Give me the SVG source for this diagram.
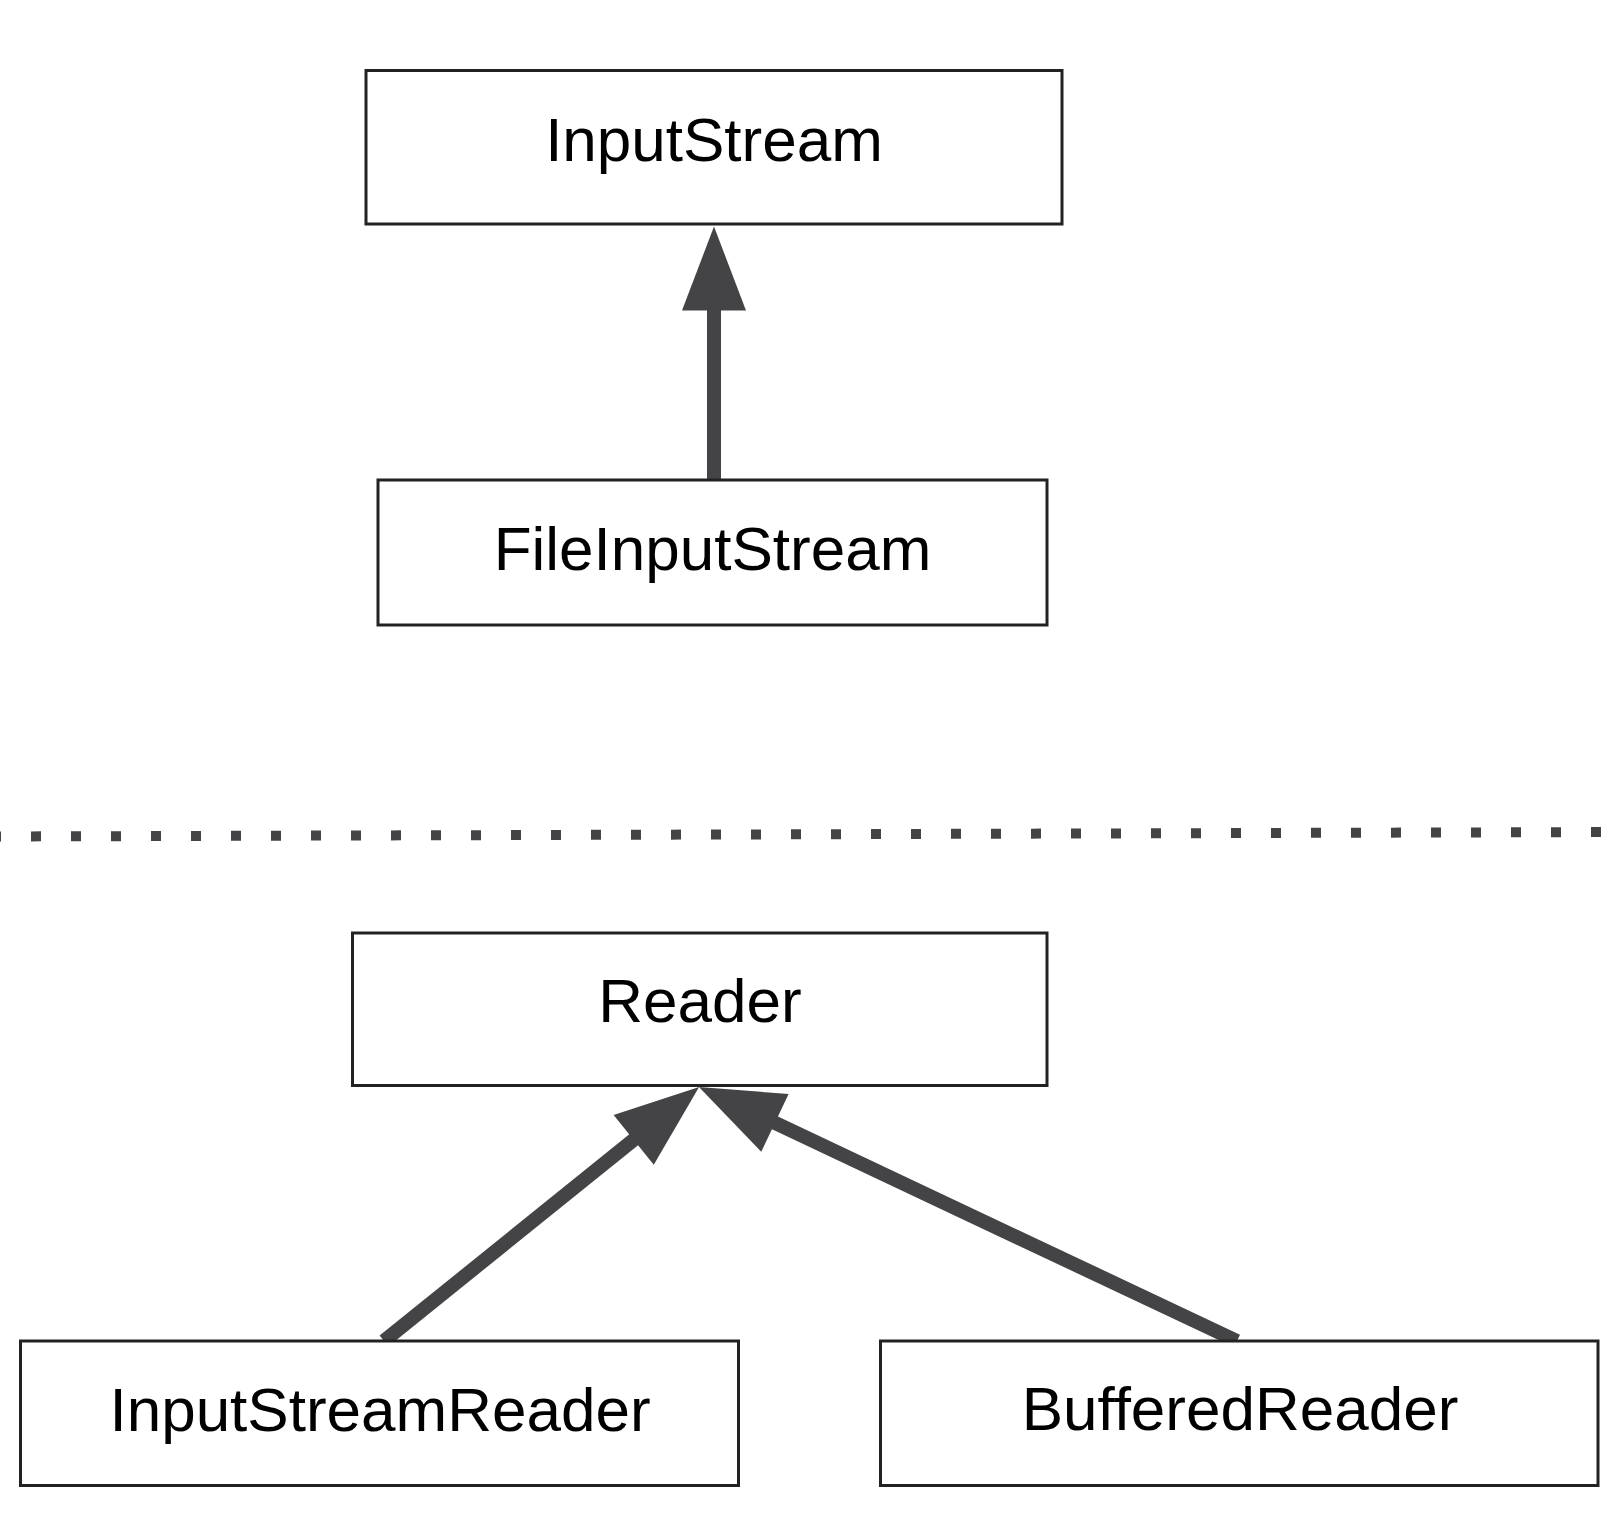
<svg xmlns="http://www.w3.org/2000/svg" width="1624" height="1530" viewBox="0 0 1624 1530">
  <style>
    .box { fill: #ffffff; stroke: #222222; stroke-width: 3; }
    .label { font-family: "Liberation Sans", Arial, sans-serif; font-size: 62px; fill: #000000; text-anchor: middle; }
    .edge { stroke: #444446; stroke-width: 14; fill: none; }
    .divider { stroke: #444446; stroke-width: 10; stroke-dasharray: 10 30; fill: none; }
  </style>
  <defs>
    <marker id="head" markerUnits="userSpaceOnUse" orient="auto" refX="4" refY="0"
            markerWidth="90" markerHeight="70" viewBox="0 -35 90 70" overflow="visible">
      <path d="M0,-32 L84,0 L0,32 Z" fill="#444446"/>
    </marker>
  </defs>

  <rect width="1624" height="1530" fill="#ffffff"/>

  <!-- separator between stream and reader hierarchies -->
  <line class="divider" x1="-9" y1="836.5" x2="1624" y2="832"/>

  <g id="connectors">
    <line class="edge" x1="714" y1="480" x2="714" y2="306.5" marker-end="url(#head)"/>
    <line class="edge" x1="384" y1="1341" x2="636.8" y2="1137.3" marker-end="url(#head)"/>
    <line class="edge" x1="1237" y1="1341" x2="771.3" y2="1121.2" marker-end="url(#head)"/>
  </g>

  <g id="InputStream">
    <rect class="box" x="366" y="70.5" width="696" height="153.5"/>
    <text class="label" x="714" y="160.5">InputStream</text>
  </g>

  <g id="FileInputStream">
    <rect class="box" x="378" y="480" width="669" height="145"/>
    <text class="label" x="712.5" y="570">FileInputStream</text>
  </g>

  <g id="Reader">
    <rect class="box" x="352.5" y="933" width="694.5" height="152.5"/>
    <text class="label" x="700" y="1021.5">Reader</text>
  </g>

  <g id="InputStreamReader">
    <rect class="box" x="20.5" y="1341" width="718" height="144.5"/>
    <text class="label" x="380" y="1430.5">InputStreamReader</text>
  </g>

  <g id="BufferedReader">
    <rect class="box" x="880.5" y="1341" width="717.5" height="144.5"/>
    <text class="label" x="1240" y="1430">BufferedReader</text>
  </g>
</svg>
